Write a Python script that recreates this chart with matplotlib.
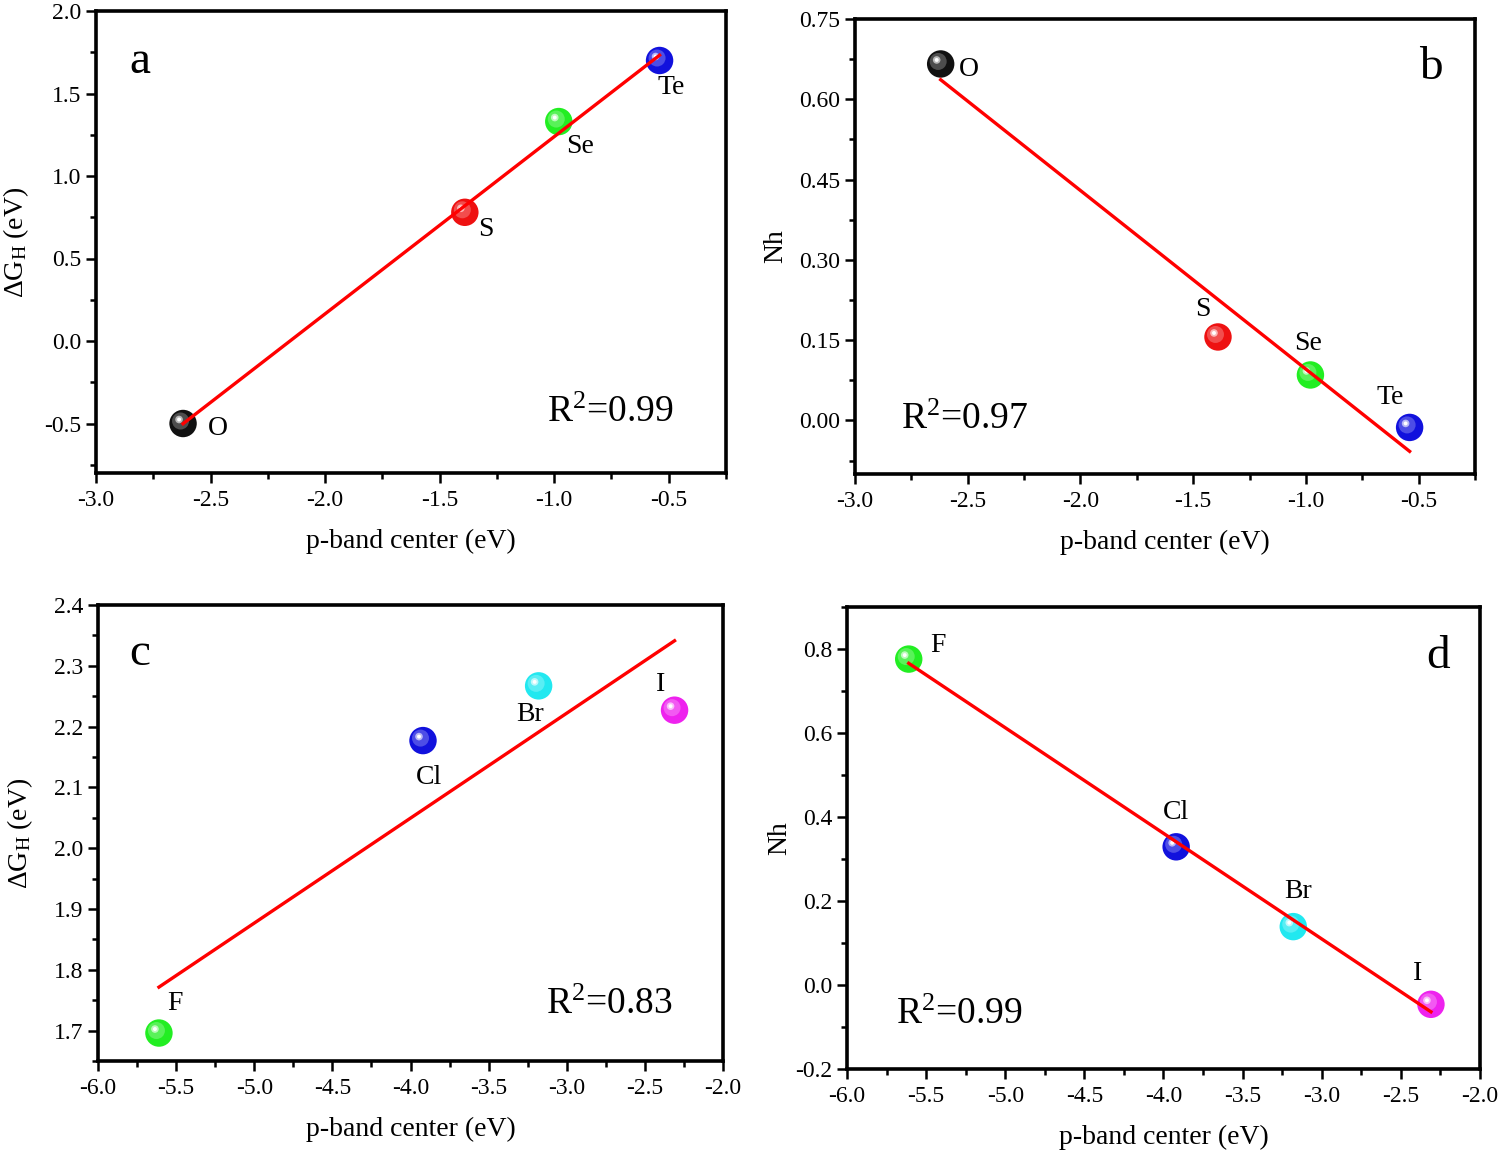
import numpy as np
import matplotlib
matplotlib.use("Agg")
import matplotlib.pyplot as plt
from matplotlib.ticker import MultipleLocator, FormatStrFormatter
from matplotlib.transforms import offset_copy

plt.rcParams['font.family'] = ['Liberation Serif', 'DejaVu Serif']
plt.rcParams['mathtext.fontset'] = 'custom'
plt.rcParams['mathtext.rm'] = 'Liberation Serif'
plt.rcParams['mathtext.it'] = 'Liberation Serif:italic'
plt.rcParams['axes.unicode_minus'] = False

# ---------------- data ----------------
chalc_names = ['O', 'S', 'Se', 'Te']
chalc_pband = [-2.62, -1.39, -0.98, -0.54]
chalc_dG = [-0.50, 0.78, 1.33, 1.70]
chalc_Nh = [0.666, 0.156, 0.085, -0.013]
chalc_colors = ['#111111', '#ee1111', '#22ee22', '#1111dd']

hal_names = ['F', 'Cl', 'Br', 'I']
hal_pband = [-5.61, -3.92, -3.18, -2.31]
hal_dG = [1.696, 2.177, 2.267, 2.227]
hal_Nh = [0.776, 0.329, 0.139, -0.046]
hal_colors = ['#22ee22', '#1111dd', '#22e8f0', '#ee22ee']

r2_texts = ['R$^{\\mathrm{2}}$=0.99', 'R$^{\\mathrm{2}}$=0.97',
            'R$^{\\mathrm{2}}$=0.83', 'R$^{\\mathrm{2}}$=0.99']
panel_letters = ['a', 'b', 'c', 'd']
xlabel = 'p-band center (eV)'
ylabels = ['ΔG$_{\\mathrm{H}}$ (eV)', 'Nh', 'ΔG$_{\\mathrm{H}}$ (eV)', 'Nh']

# ---------------- layout / style ----------------
fig = plt.figure(figsize=(15, 11.54), dpi=100)
W, H = 1500, 1154
boxes = [(96, 11, 726, 473), (855, 19, 1475, 474),
         (98, 605, 723, 1061), (847, 607, 1480, 1069)]
axes = []
for (l, t, r, b) in boxes:
    axes.append(fig.add_axes([l / W, 1 - b / H, (r - l) / W, (b - t) / H]))

panels = [
    dict(x=chalc_pband, y=chalc_dG, names=chalc_names, colors=chalc_colors,
         xlim=(-3.0, -0.25), ylim=(-0.8, 2.0), xmaj=0.5, ymaj=0.5, yfmt='%.1f',
         offs=[(35, -5), (21, -17), (21, -25), (12, -27)],
         letter_pos=(0.07, 0.89), r2_pos=(0.816, 0.13), ylab_x=-0.103),
    dict(x=chalc_pband, y=chalc_Nh, names=chalc_names, colors=chalc_colors,
         xlim=(-3.0, -0.25), ylim=(-0.1, 0.75), xmaj=0.5, ymaj=0.15, yfmt='%.2f',
         offs=[(28, -6), (-15, 27), (-2, 31), (-19, 30)],
         letter_pos=(0.929, 0.892), r2_pos=(0.177, 0.119), ylab_x=-0.108),
    dict(x=hal_pband, y=hal_dG, names=hal_names, colors=hal_colors,
         xlim=(-6.0, -2.0), ylim=(1.65, 2.4), xmaj=0.5, ymaj=0.1, yfmt='%.1f',
         offs=[(16, 30), (6, -37), (-9, -29), (-14, 26)],
         letter_pos=(0.067, 0.893), r2_pos=(0.818, 0.123), ylab_x=-0.100),
    dict(x=hal_pband, y=hal_Nh, names=hal_names, colors=hal_colors,
         xlim=(-6.0, -2.0), ylim=(-0.2, 0.9), xmaj=0.5, ymaj=0.2, yfmt='%.1f',
         offs=[(29, 14), (0, 34), (5, 35), (-13, 31)],
         letter_pos=(0.934, 0.892), r2_pos=(0.178, 0.117), ylab_x=-0.087),
]


def lighten(c, f):
    rgb = np.array(matplotlib.colors.to_rgb(c))
    return tuple(rgb + (1 - rgb) * f)


for i, (ax, p) in enumerate(zip(axes, panels)):
    x = np.array(p['x'])
    y = np.array(p['y'])
    # least-squares fit line
    k, b0 = np.polyfit(x, y, 1)
    xf = np.array([x.min(), x.max()])
    # spheres
    ax.scatter(x, y, s=390, c=p['colors'], edgecolors='none', zorder=3)
    tr1 = offset_copy(ax.transData, fig=fig, x=-2.5, y=2.5, units='dots')
    ax.scatter(x, y, s=150, c=[lighten(c, 0.25) for c in p['colors']],
               edgecolors='none', zorder=4, transform=tr1)
    tr2 = offset_copy(ax.transData, fig=fig, x=-4, y=4, units='dots')
    ax.scatter(x, y, s=30, c=[lighten(c, 0.7) for c in p['colors']],
               edgecolors='none', zorder=5, transform=tr2)
    ax.scatter(x, y, s=8, c='white', edgecolors='none', zorder=6, transform=tr2)
    ax.plot(xf, k * xf + b0, color='#ff0000', lw=2.4, zorder=7)

    for name, xi, yi, off in zip(p['names'], x, y, p['offs']):
        ax.annotate(name, (xi, yi), xytext=off, textcoords='offset pixels',
                    ha='center', va='center', fontsize=20, zorder=8)

    ax.set_xlim(*p['xlim'])
    ax.set_ylim(*p['ylim'])
    ax.xaxis.set_major_locator(MultipleLocator(p['xmaj']))
    ax.xaxis.set_minor_locator(MultipleLocator(p['xmaj'] / 2))
    ax.yaxis.set_major_locator(MultipleLocator(p['ymaj']))
    ax.yaxis.set_minor_locator(MultipleLocator(p['ymaj'] / 2))
    ax.xaxis.set_major_formatter(FormatStrFormatter('%.1f'))
    ax.yaxis.set_major_formatter(FormatStrFormatter(p['yfmt']))
    ax.tick_params(which='major', direction='out', length=7, width=1.8,
                   labelsize=17, top=False, right=False)
    ax.tick_params(axis='x', which='major', pad=5)
    ax.tick_params(which='minor', direction='out', length=4, width=1.8,
                   top=False, right=False)
    for sp in ax.spines.values():
        sp.set_linewidth(2.6)
    ax.set_xlabel(xlabel, fontsize=20, labelpad=13)
    ax.set_ylabel(ylabels[i], fontsize=20)
    ax.yaxis.set_label_coords(p['ylab_x'], 0.5)

    ax.text(*p['letter_pos'], panel_letters[i], transform=ax.transAxes,
            fontsize=34, ha='center', va='center')
    ax.text(*p['r2_pos'], r2_texts[i], transform=ax.transAxes,
            fontsize=27, ha='center', va='center')

fig.savefig('out.png', dpi=100)
